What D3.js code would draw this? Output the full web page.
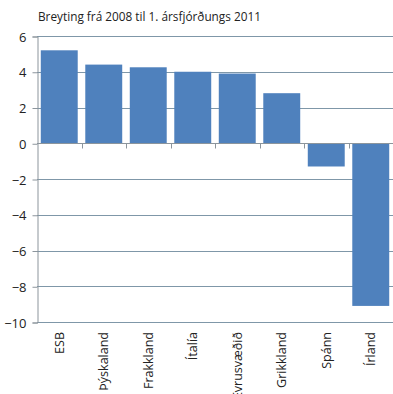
<!DOCTYPE html>
<html>
<head>
<meta charset="utf-8">
<script src="https://cdn.jsdelivr.net/npm/d3@7"></script>
<style>
  html, body { margin: 0; padding: 0; background: #fff; overflow: hidden; }
  svg { display: block; }
</style>
</head>
<body>
<svg id="chart" width="393" height="394"></svg>
<script>
// Breyting frá 2008 til 1. ársfjórðungs 2011
const categories = ["ESB", "Þýskaland", "Frakkland", "Ítalía", "Evrusvæðið", "Grikkland", "Spánn", "Írland"];
const values = [5.2, 4.4, 4.25, 4.0, 3.9, 2.8, -1.3, -9.1];
const yTicks = [6, 4, 2, 0, -2, -4, -6, -8, -10];
const title = "Breyting frá 2008 til 1. ársfjórðungs 2011";

const svg = d3.select("#chart");
const margin = { top: 36, right: 0, bottom: 72, left: 37 };
const W = 393, H = 394;

const x = d3.scaleBand()
  .domain(categories)
  .range([margin.left, W - margin.right])
  .paddingInner(0.17)
  .paddingOuter(0.085);

const y = d3.scaleLinear()
  .domain([-10, 6])
  .range([H - margin.bottom, margin.top]);

const font = "'Open Sans', 'Liberation Sans', sans-serif";

// title
svg.append("text")
  .attr("x", 38)
  .attr("y", 21)
  .attr("font-family", font)
  .attr("font-size", 11.8)
  .attr("fill", "#222")
  .text(title);

// horizontal gridlines
svg.append("g")
  .selectAll("line")
  .data(yTicks.filter(d => d !== 0))
  .join("line")
  .attr("x1", margin.left)
  .attr("x2", W)
  .attr("y1", d => Math.round(y(d)) + 0.5)
  .attr("y2", d => Math.round(y(d)) + 0.5)
  .attr("stroke", "#7f97a8")
  .attr("stroke-width", 1);

// y axis
const yAxis = d3.axisLeft(y)
  .tickValues(yTicks)
  .tickSize(5)
  .tickPadding(6)
  .tickFormat(d3.format("d"));

const gy = svg.append("g")
  .attr("transform", `translate(${margin.left + 0.5},0.5)`)
  .call(yAxis);
gy.select(".domain").attr("stroke", "#8c959c");
gy.selectAll(".tick line").attr("stroke", "#8c959c");
gy.selectAll(".tick text")
  .attr("font-family", font)
  .attr("font-size", 13)
  .attr("fill", "#222")
  .attr("dy", "0.35em");

// bars
svg.append("g")
  .selectAll("rect")
  .data(values)
  .join("rect")
  .attr("x", (d, i) => x(categories[i]))
  .attr("width", x.bandwidth())
  .attr("y", d => y(Math.max(0, d)))
  .attr("height", d => Math.abs(y(d) - y(0)))
  .attr("fill", "#4f81bd");

// zero line with category ticks
const zeroY = Math.round(y(0)) + 0.5;
svg.append("line")
  .attr("x1", margin.left)
  .attr("x2", W)
  .attr("y1", zeroY)
  .attr("y2", zeroY)
  .attr("stroke", "#8c959c");

const boundaries = categories.map(c => x(c) - x.step() * x.paddingInner() / 2).slice(1);
svg.append("g")
  .selectAll("line")
  .data(boundaries)
  .join("line")
  .attr("x1", d => Math.round(d) + 0.5)
  .attr("x2", d => Math.round(d) + 0.5)
  .attr("y1", zeroY)
  .attr("y2", zeroY + 5)
  .attr("stroke", "#8c959c");

// category labels, rotated
svg.append("g")
  .selectAll("text")
  .data(categories)
  .join("text")
  .attr("transform", d => `translate(${x(d) + x.bandwidth() / 2 + 4.5},${H - margin.bottom + 10}) rotate(-90)`)
  .attr("text-anchor", "end")
  .attr("font-family", font)
  .attr("font-size", 12.5)
  .attr("fill", "#222")
  .text(d => d);
</script>
</body>
</html>
